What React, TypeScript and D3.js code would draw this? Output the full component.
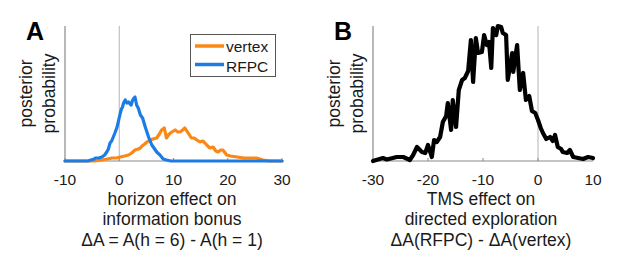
import React from "react";
import * as d3 from "d3";

// ---------- data ----------
const xTicksA = [-10, 0, 10, 20, 30];
const xTicksB = [-30, -20, -10, 0, 10];
const legendLabels = ["vertex", "RFPC"];

// Panel A: posterior over horizon effect (x, density in arbitrary units)
const vertexX = [-10, -4.5, -3.2, -2.2, -1.3, -0.5, 0.2, 1.0, 1.7, 2.3, 2.9, 3.5, 3.9, 4.2, 4.7, 5.1, 5.7, 6.2, 6.9, 7.4, 7.8, 8.3, 8.7, 9.2, 9.7, 10.3, 10.8, 11.2, 11.7, 12.1, 12.7, 13.3, 13.8, 14.3, 14.9, 15.4, 15.8, 16.3, 16.7, 17.3, 17.8, 18.2, 18.7, 19.1, 19.8, 20.5, 21.7, 23, 25.3, 26.5, 27.7, 30];
const vertexY = [0, 0, 1, 2, 3, 3, 4, 5, 6, 8, 11, 12, 13, 15, 17, 19, 21, 22, 23, 27, 31, 33, 23, 27, 29, 31, 29, 29, 31, 33, 28, 23, 23, 21, 19, 20, 18, 15, 13, 14, 10, 9, 11, 11, 6, 5, 4, 3, 3, 1, 0, 0];

const rfpcX = [-10, -7, -5.8, -5.2, -4.6, -4.4, -3.8, -3.2, -2.7, -2.3, -2.0, -1.7, -1.4, -1.1, -0.8, -0.4, -0.1, 0.2, 0.4, 0.6, 0.8, 1.1, 1.4, 1.7, 2.0, 2.2, 2.4, 2.6, 2.9, 3.2, 3.5, 3.9, 4.3, 4.8, 5.1, 5.4, 5.7, 6.0, 6.4, 6.9, 7.5, 8.1, 8.7, 9.5, 30];
const rfpcY = [0, 0, 0, 1, 2, 3, 3, 4, 6, 9, 12, 18, 20, 24, 28, 34, 41, 48, 52, 54, 58, 61, 58, 59, 57, 56, 60, 62, 64, 56, 53, 46, 43, 34, 29, 24, 20, 16, 13, 9, 6, 2, 1, 0, 0];

// Panel B: posterior over TMS effect
const tmsX = [-30, -28.2, -27.5, -26.4, -25.7, -24.5, -23.3, -22.7, -22.0, -21.1, -20.5, -20.0, -19.3, -18.9, -18.4, -17.8, -17.3, -16.7, -16.4, -15.8, -15.5, -14.9, -14.4, -13.8, -13.3, -12.7, -12.2, -11.8, -11.3, -10.9, -10.2, -9.8, -9.3, -8.9, -8.5, -8.2, -7.6, -7.3, -6.7, -6.4, -5.8, -5.5, -4.7, -4.5, -3.8, -3.3, -2.7, -2.2, -1.6, -1.1, -0.5, 0, 0.5, 0.9, 1.5, 2.2, 2.7, 3.1, 3.6, 4.2, 4.5, 5.3, 5.8, 6.4, 7.3, 8.2, 9.1, 10];
const tmsY = [0, 3, 1.5, 3, 4, 4, 1, 6, 14, 9, 8, 16, 4, 21, 19, 24, 39, 45, 58, 31, 61, 34, 71, 81, 83, 90, 121, 79, 123, 108, 109, 126, 116, 119, 93, 133, 126, 135, 134, 128, 126, 81, 108, 89, 116, 71, 88, 61, 65, 50, 48, 41, 33, 28, 22, 24, 20, 26, 14, 12, 9, 8, 11, 4, 3, 2, 4, 3];

const Y_MAX = 135;

// ---------- layout ----------
const W = 617;
const H = 255;
const TOP = 26;
const BASE = 161;
const FONT = "'Liberation Sans', Arial, Helvetica, sans-serif";
const ORANGE = "#FA8716";
const BLUE = "#1C7CE6";
const TEXT = "#1a1a1a";
const AXIS = "#8a8a8a";
const ZERO = "#b5b5b5";

type PanelProps = {
  x0: number;
  x1: number;
  domain: [number, number];
  ticks: number[];
  letter: string;
  titleLines: string[];
  titleCx: number;
  series: { xs: number[]; ys: number[]; color: string; width: number }[];
};

function Panel({ x0, x1, domain, ticks, letter, titleLines, titleCx, series }: PanelProps) {
  const x = d3.scaleLinear().domain(domain).range([x0, x1]);
  const y = d3.scaleLinear().domain([0, Y_MAX]).range([BASE, TOP]);
  const midY = (TOP + BASE) / 2;
  return (
    <g>
      <line x1={x(0)} x2={x(0)} y1={TOP} y2={BASE} stroke={ZERO} strokeWidth={1} />
      <line x1={x0} x2={x0} y1={TOP} y2={BASE} stroke={AXIS} strokeWidth={1.2} />
      <line x1={x0} x2={x1} y1={BASE} y2={BASE} stroke={AXIS} strokeWidth={1.2} />
      {ticks.map((t) => (
        <line key={t} x1={x(t)} x2={x(t)} y1={BASE} y2={BASE - 3} stroke={AXIS} strokeWidth={1} />
      ))}
      {series.map((s, i) => {
        const pts = s.xs.map((v, k) => [v, s.ys[k]] as [number, number]);
        const path = d3
          .line<[number, number]>()
          .x((d) => x(d[0]))
          .y((d) => y(d[1]))(pts);
        return (
          <path
            key={i}
            d={path || ""}
            fill="none"
            stroke={s.color}
            strokeWidth={s.width}
            strokeLinejoin="round"
            strokeLinecap="round"
          />
        );
      })}
      {ticks.map((t) => (
        <text key={t} x={x(t)} y={185} textAnchor="middle" fontSize={15.5} fontFamily={FONT} fill={TEXT}>
          {t}
        </text>
      ))}
      <text
        transform={`translate(${x0 - 33},${midY}) rotate(-90)`}
        textAnchor="middle"
        fontSize={17.5}
        fontFamily={FONT}
        fill={TEXT}
      >
        posterior
      </text>
      <text
        transform={`translate(${x0 - 10},${midY}) rotate(-90)`}
        textAnchor="middle"
        fontSize={17.5}
        fontFamily={FONT}
        fill={TEXT}
      >
        probability
      </text>
      <text x={x0 - 39} y={40} fontSize={25} fontWeight="bold" fontFamily={FONT} fill="#000">
        {letter}
      </text>
      {titleLines.map((l, i) => (
        <text
          key={i}
          x={titleCx}
          y={[205, 225, 246][i]}
          textAnchor="middle"
          fontSize={17.5}
          fontFamily={FONT}
          fill={TEXT}
        >
          {l}
        </text>
      ))}
    </g>
  );
}

export default function App() {
  return (
    <svg
      width={W}
      height={H}
      style={{ position: "absolute", left: 0, top: 0, background: "#fff" }}
    >
      <rect width={W} height={H} fill="#fff" />
      <Panel
        x0={65}
        x1={282}
        domain={[-10, 30]}
        ticks={xTicksA}
        letter="A"
        titleLines={["horizon effect on", "information bonus", "ΔA = A(h = 6) - A(h = 1)"]}
        titleCx={172}
        series={[
          { xs: vertexX, ys: vertexY, color: ORANGE, width: 3.2 },
          { xs: rfpcX, ys: rfpcY, color: BLUE, width: 3.2 },
        ]}
      />
      <g>
        <rect x={190.5} y={34.5} width={85} height={42} fill="#fff" stroke="#555" strokeWidth={1} />
        {[ORANGE, BLUE].map((c, i) => (
          <g key={i}>
            <line x1={195} x2={224} y1={46 + i * 18.5} y2={46 + i * 18.5} stroke={c} strokeWidth={3.5} />
            <text x={226} y={51.5 + i * 20} fontSize={15.5} fontFamily={FONT} fill={TEXT}>
              {legendLabels[i]}
            </text>
          </g>
        ))}
      </g>
      <Panel
        x0={373}
        x1={593}
        domain={[-30, 10]}
        ticks={xTicksB}
        letter="B"
        titleLines={["TMS effect on", "directed exploration", "ΔA(RFPC) - ΔA(vertex)"]}
        titleCx={481}
        series={[{ xs: tmsX, ys: tmsY, color: "#000", width: 4.2 }]}
      />
    </svg>
  );
}
